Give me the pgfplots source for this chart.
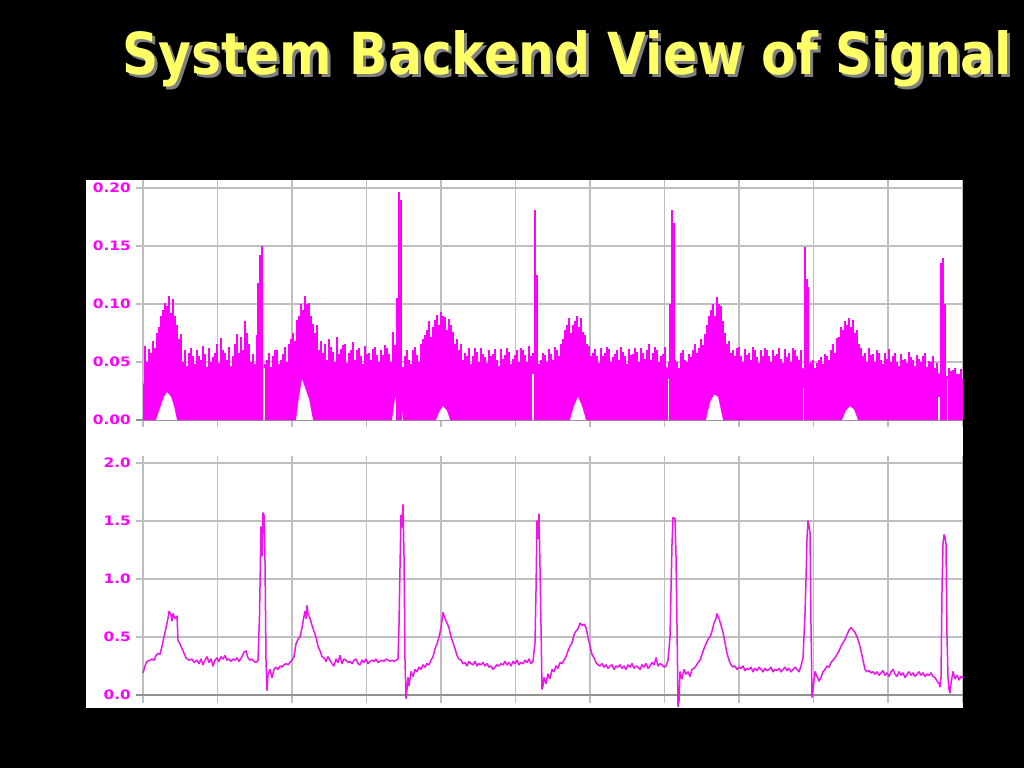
\documentclass[border=0pt]{standalone}
\usepackage{pgfplots}
\pgfplotsset{compat=1.18}
\usepackage{fontspec}
\setmainfont{DejaVu Sans}
\usepackage{graphicx}
\definecolor{mag}{RGB}{255,0,255}
\definecolor{magline}{RGB}{238,20,238}
\definecolor{ttl}{RGB}{255,255,102}
\definecolor{gridc}{RGB}{190,190,190}
\definecolor{zeroc}{RGB}{145,145,145}
\newcommand{\tl}[1]{\scalebox{1.18}[1]{#1}}
\pgfplotsset{ecg/.style={
  scale only axis, width=827pt, height=247pt,
  xmin=136, xmax=963,
  axis line style={draw=none},
  xtick={143,217.5,292,366.5,441,515.5,590,664.5,739,813.5,888,962.5},
  xticklabels={},
  major tick length=0pt,
  grid=major,
  major grid style={gridc, line width=1.6pt},
  extra y ticks={0}, extra y tick labels={},
  extra y tick style={grid=major, major grid style={zeroc, line width=1.8pt}},
  yticklabel style={font=\bfseries\fontsize{13}{13}\selectfont, text=mag, inner sep=0pt, xshift=-5pt, anchor=east},
  clip=false,
}}
\begin{document}
\begin{tikzpicture}[x=1pt,y=1pt]
\fill[black] (0pt,0pt) rectangle (1024pt,768pt);
\fill[white] (86pt,60pt) rectangle (963pt,588pt);
\node[anchor=base west, inner sep=0pt, text=gray] at (125pt,690pt) {\resizebox{890pt}{44pt}{\bfseries System Backend View of Signal}};
\node[anchor=base west, inner sep=0pt, text=ttl] at (122pt,693pt) {\resizebox{890pt}{44pt}{\bfseries System Backend View of Signal}};

% ---------------- top panel ----------------
\begin{axis}[ecg, at={(136pt,341pt)}, anchor=south west,
  ymin=-0.006, ymax=0.207,
  ytick={0,0.05,0.1,0.15,0.2},
  yticklabels={\tl{0.00},\tl{0.05},\tl{0.10},\tl{0.15},\tl{0.20}}]
% solid lower band
\addplot[fill=mag, draw=none] coordinates {
(143,0) (143,0.030) (147,0.040) (152,0.046) (157,0.050) (162,0.065) (167,0.080) (172,0.078) (177,0.058) (182,0.048) (188,0.042) (200,0.044) (212,0.040) (224,0.046) (236,0.042) (248,0.046) (256,0.044) (260,0.040) (268,0.040) (280,0.043) (290,0.048) (296,0.062) (301,0.080) (306,0.088) (311,0.078) (316,0.062) (322,0.048) (334,0.044) (350,0.046) (366,0.043) (382,0.045) (396,0.046) (404,0.042) (416,0.045) (424,0.055) (432,0.068) (440,0.075) (448,0.072) (455,0.058) (462,0.047) (480,0.045) (500,0.043) (520,0.046) (532,0.045) (540,0.040) (552,0.044) (562,0.050) (568,0.065) (575,0.075) (582,0.072) (588,0.058) (595,0.046) (620,0.045) (645,0.046) (664,0.047) (676,0.040) (690,0.046) (700,0.052) (706,0.068) (712,0.082) (718,0.088) (724,0.072) (730,0.052) (745,0.046) (770,0.045) (800,0.046) (812,0.040) (825,0.043) (835,0.052) (842,0.064) (849,0.072) (856,0.066) (863,0.050) (875,0.046) (900,0.044) (925,0.043) (940,0.040) (950,0.036) (963,0.036) (963,0)} \closedcycle;
% spikes, first set
\addplot[ycomb, mag, line width=2pt, no marks] coordinates {
(145,0.064) (149,0.061) (153,0.068) (157,0.075) (161,0.090) (165,0.101) (169,0.107) (173,0.104) (177,0.082) (181,0.074)
(185,0.060) (189,0.058) (193,0.055) (197,0.060) (201,0.052) (205,0.057) (209,0.062) (213,0.054) (217,0.066) (221,0.071)
(225,0.058) (229,0.063) (233,0.055) (237,0.074) (241,0.072) (245,0.085) (249,0.066) (253,0.057) (257,0.073) (261,0.050)
(265,0.048) (269,0.058) (273,0.055) (277,0.060) (281,0.052) (285,0.063) (289,0.066) (293,0.075) (297,0.086) (301,0.100)
(305,0.107) (309,0.101) (313,0.083) (317,0.082) (321,0.068) (325,0.066) (329,0.070) (333,0.059) (337,0.072) (341,0.061)
(345,0.066) (349,0.058) (353,0.067) (357,0.060) (361,0.055) (365,0.064) (369,0.058) (373,0.061) (377,0.056) (381,0.060)
(385,0.065) (389,0.057) (393,0.076) (397,0.060) (401,0.050) (405,0.055) (409,0.052) (413,0.060) (417,0.056) (421,0.066)
(425,0.073) (429,0.085) (433,0.080) (437,0.091) (441,0.093) (445,0.089) (449,0.087) (453,0.076) (457,0.070) (461,0.066)
(465,0.058) (469,0.062) (473,0.055) (477,0.059) (481,0.062) (485,0.054) (489,0.060) (493,0.057) (497,0.052) (501,0.061)
(505,0.056) (509,0.059) (513,0.053) (517,0.060) (521,0.062) (525,0.056) (529,0.064) (533,0.058) (537,0.045) (541,0.052)
(545,0.056) (549,0.061) (553,0.052) (557,0.060) (561,0.066) (565,0.078) (569,0.088) (573,0.082) (577,0.090) (581,0.088)
(585,0.073) (589,0.064) (593,0.058) (597,0.055) (601,0.062) (605,0.058) (609,0.061) (613,0.054) (617,0.060) (621,0.063)
(625,0.055) (629,0.061) (633,0.057) (637,0.059) (641,0.062) (645,0.053) (649,0.066) (653,0.058) (657,0.060) (661,0.055)
(665,0.063) (669,0.050) (673,0.045) (677,0.050) (681,0.058) (685,0.052) (689,0.057) (693,0.060) (697,0.058) (701,0.070)
(705,0.074) (709,0.090) (713,0.100) (717,0.106) (721,0.098) (725,0.075) (729,0.068) (733,0.060) (737,0.062) (741,0.055)
(745,0.061) (749,0.058) (753,0.063) (757,0.054) (761,0.060) (765,0.062) (769,0.055) (773,0.060) (777,0.057) (781,0.053)
(785,0.061) (789,0.058) (793,0.062) (797,0.055) (801,0.060) (805,0.050) (809,0.048) (813,0.052) (817,0.049) (821,0.054)
(825,0.057) (829,0.052) (833,0.066) (837,0.071) (841,0.080) (845,0.085) (849,0.088) (853,0.086) (857,0.078) (861,0.062)
(865,0.058) (869,0.062) (873,0.057) (877,0.060) (881,0.052) (885,0.058) (889,0.061) (893,0.055) (897,0.050) (901,0.057)
(905,0.053) (909,0.059) (913,0.052) (917,0.056) (921,0.050) (925,0.058) (929,0.051) (933,0.055) (937,0.049) (941,0.045)
(945,0.042) (949,0.045) (953,0.043) (957,0.040) (961,0.044)};
% spikes, second set (interleaved)
\addplot[ycomb, mag, line width=1.6pt, no marks] coordinates {
(147,0.050) (151,0.058) (155,0.062) (159,0.080) (163,0.095) (167,0.098) (171,0.092) (175,0.090) (179,0.070) (183,0.050)
(187,0.047) (191,0.062) (195,0.048) (199,0.055) (203,0.064) (207,0.046) (211,0.050) (215,0.058) (219,0.049) (223,0.060)
(227,0.052) (231,0.047) (235,0.066) (239,0.058) (243,0.060) (247,0.075) (251,0.050) (255,0.048) (259,0.040) (263,0.040)
(267,0.052) (271,0.046) (275,0.060) (279,0.048) (283,0.057) (287,0.050) (291,0.070) (295,0.068) (299,0.090) (303,0.095)
(307,0.100) (311,0.090) (315,0.075) (319,0.060) (323,0.058) (327,0.052) (331,0.063) (335,0.050) (339,0.057) (343,0.065)
(347,0.049) (351,0.060) (355,0.052) (359,0.062) (363,0.048) (367,0.057) (371,0.052) (375,0.063) (379,0.050) (383,0.056)
(387,0.062) (391,0.050) (395,0.065) (399,0.040) (403,0.046) (407,0.060) (411,0.048) (415,0.063) (419,0.050) (423,0.070)
(427,0.078) (431,0.072) (435,0.086) (439,0.082) (443,0.090) (447,0.078) (451,0.082) (455,0.066) (459,0.060) (463,0.052)
(467,0.055) (471,0.048) (475,0.062) (479,0.050) (483,0.057) (487,0.049) (491,0.055) (495,0.061) (499,0.047) (503,0.053)
(507,0.062) (511,0.048) (515,0.056) (519,0.050) (523,0.060) (527,0.050) (531,0.055) (535,0.040) (539,0.048) (543,0.058)
(547,0.050) (551,0.057) (555,0.063) (559,0.055) (563,0.070) (567,0.082) (571,0.075) (575,0.085) (579,0.080) (583,0.076)
(587,0.066) (591,0.055) (595,0.061) (599,0.049) (603,0.055) (607,0.063) (611,0.050) (615,0.057) (619,0.052) (623,0.059)
(627,0.048) (631,0.056) (635,0.062) (639,0.050) (643,0.058) (647,0.060) (651,0.052) (655,0.063) (659,0.050) (663,0.057)
(667,0.045) (671,0.040) (675,0.052) (679,0.045) (683,0.060) (687,0.050) (691,0.054) (695,0.066) (699,0.062) (703,0.065)
(707,0.082) (711,0.095) (715,0.090) (719,0.100) (723,0.085) (727,0.066) (731,0.058) (735,0.055) (739,0.063) (743,0.050)
(747,0.056) (751,0.052) (755,0.060) (759,0.049) (763,0.055) (767,0.060) (771,0.050) (775,0.055) (779,0.062) (783,0.049)
(787,0.054) (791,0.050) (795,0.060) (799,0.052) (803,0.040) (807,0.045) (811,0.050) (815,0.045) (819,0.052) (823,0.048)
(827,0.055) (831,0.060) (835,0.058) (839,0.072) (843,0.078) (847,0.082) (851,0.080) (855,0.075) (859,0.066) (863,0.055)
(867,0.050) (871,0.056) (875,0.050) (879,0.058) (883,0.048) (887,0.053) (891,0.050) (895,0.058) (899,0.047) (903,0.052)
(907,0.049) (911,0.054) (915,0.047) (919,0.053) (923,0.055) (927,0.046) (931,0.050) (935,0.045) (939,0.040) (943,0.040)
(947,0.038) (951,0.042) (955,0.045) (959,0.040)};
% white holes near the base
\addplot[fill=white, draw=none] coordinates {(156,0) (160,0.010) (164,0.020) (167,0.024) (171,0.020) (174,0.012) (177,0)} \closedcycle;
\addplot[fill=white, draw=none] coordinates {(296,0) (299,0.020) (302,0.035) (305,0.028) (309,0.018) (313,0)} \closedcycle;
\addplot[fill=white, draw=none] coordinates {(392,0) (395,0.018) (398,0.023) (401,0.015) (403,0)} \closedcycle;
\addplot[fill=white, draw=none] coordinates {(436,0) (440,0.008) (443,0.012) (447,0.008) (450,0)} \closedcycle;
\addplot[fill=white, draw=none] coordinates {(570,0) (574,0.012) (578,0.020) (582,0.012) (586,0)} \closedcycle;
\addplot[fill=white, draw=none] coordinates {(706,0) (710,0.015) (714,0.022) (718,0.020) (723,0)} \closedcycle;
\addplot[fill=white, draw=none] coordinates {(842,0) (846,0.008) (850,0.012) (854,0.009) (858,0)} \closedcycle;
% white gaps beside the QRS spikes
\addplot[ycomb, white, line width=1.4pt, no marks] coordinates {(264,0.045) (533,0.040) (668.5,0.035) (803.5,0.028) (939,0.020) (947.5,0.035)};
% QRS spikes
\addplot[ycomb, mag, line width=1.8pt, no marks] coordinates {
(258,0.118) (260,0.142) (262,0.150)
(397,0.105) (399,0.197) (401,0.190)
(535,0.181) (537,0.125)
(670,0.100) (672,0.181) (674,0.170)
(805,0.149) (807,0.122) (808.5,0.115)
(941,0.135) (943,0.140) (945,0.100)};
\end{axis}

% ---------------- bottom panel ----------------
\begin{axis}[ecg, at={(136pt,65pt)}, anchor=south west,
  ymin=-0.069, ymax=2.06,
  ytick={0,0.5,1,1.5,2},
  yticklabels={\tl{0.0},\tl{0.5},\tl{1.0},\tl{1.5},\tl{2.0}}]
\addplot[magline, line width=1.5pt, line join=round, no marks] coordinates {
(143,0.19) (145,0.25) (147,0.29) (150,0.30) (152,0.31) (154,0.30) (156,0.34) (158,0.36) (160,0.35) (162,0.42) (164,0.50) (166,0.58) (168,0.66) (169,0.72) (171,0.69) (172,0.64) (173,0.70) (175,0.66) (177,0.68) (178,0.47) (180,0.44) (182,0.40) (184,0.36) (186,0.32) (189,0.30) (192,0.31) (194,0.28) (197,0.30) (199,0.27) (201,0.31) (203,0.26) (205,0.30) (207,0.33) (209,0.28) (211,0.31) (213,0.25) (215,0.30) (217,0.32) (219,0.29) (221,0.33) (223,0.31) (225,0.34) (227,0.30) (229,0.31) (231,0.29) (233,0.31) (235,0.30) (237,0.32) (239,0.29) (242,0.33) (244,0.37) (246,0.38) (248,0.32) (250,0.30) (252,0.31) (254,0.29) (256,0.28) (258,0.30) (259.5,0.68) (261,1.45) (262,1.20) (263,1.57) (264,1.55) (265,1.15) (266,0.30) (267,0.04) (268,0.18) (270,0.22) (272,0.15) (274,0.22) (276,0.24) (278,0.22) (280,0.25) (282,0.24) (284,0.26) (286,0.27) (288,0.26) (290,0.28) (292,0.30) (294,0.33) (296,0.44) (298,0.48) (300,0.50) (302,0.58) (304,0.68) (305,0.72) (306,0.66) (307,0.77) (308,0.70) (310,0.66) (312,0.60) (314,0.55) (316,0.50) (318,0.42) (320,0.38) (322,0.33) (324,0.32) (326,0.29) (328,0.33) (330,0.30) (332,0.27) (334,0.25) (336,0.31) (338,0.28) (340,0.34) (342,0.27) (344,0.31) (346,0.30) (348,0.28) (350,0.29) (352,0.27) (354,0.30) (356,0.31) (358,0.27) (360,0.26) (362,0.30) (364,0.28) (366,0.31) (368,0.27) (370,0.29) (372,0.30) (374,0.29) (376,0.31) (378,0.28) (380,0.29) (382,0.30) (384,0.29) (386,0.31) (388,0.30) (390,0.29) (392,0.30) (394,0.29) (396,0.30) (398,0.31) (399,0.60) (400,1.10) (401,1.55) (402,1.45) (403,1.64) (404,1.20) (405,0.30) (406,-0.03) (407,0.05) (408,0.15) (409,0.08) (411,0.20) (413,0.16) (415,0.22) (417,0.20) (419,0.24) (421,0.22) (423,0.26) (425,0.24) (427,0.27) (429,0.26) (431,0.30) (433,0.33) (435,0.40) (437,0.44) (439,0.50) (441,0.58) (443,0.71) (445,0.66) (447,0.62) (449,0.58) (451,0.50) (453,0.45) (455,0.40) (457,0.34) (459,0.31) (461,0.30) (463,0.27) (465,0.28) (467,0.25) (469,0.29) (471,0.27) (473,0.26) (475,0.29) (477,0.25) (479,0.27) (481,0.26) (483,0.28) (485,0.25) (487,0.27) (489,0.24) (491,0.25) (493,0.22) (495,0.24) (497,0.26) (499,0.25) (501,0.27) (503,0.26) (505,0.29) (507,0.26) (509,0.28) (511,0.25) (513,0.29) (515,0.27) (517,0.30) (519,0.26) (521,0.28) (523,0.27) (525,0.30) (527,0.28) (529,0.31) (531,0.27) (533,0.29) (535,0.45) (536,0.90) (537,1.50) (538,1.35) (539,1.56) (540,1.10) (541,0.60) (542,0.05) (543,0.08) (544,0.15) (546,0.10) (548,0.18) (550,0.14) (552,0.22) (554,0.20) (556,0.25) (558,0.23) (560,0.28) (562,0.27) (564,0.30) (566,0.33) (568,0.38) (570,0.42) (572,0.45) (574,0.52) (576,0.55) (578,0.57) (580,0.62) (582,0.60) (584,0.61) (586,0.58) (588,0.50) (590,0.42) (592,0.35) (594,0.32) (596,0.28) (598,0.26) (600,0.25) (602,0.27) (604,0.24) (606,0.26) (608,0.23) (610,0.25) (612,0.26) (614,0.22) (616,0.25) (618,0.24) (620,0.26) (622,0.23) (624,0.25) (626,0.22) (628,0.26) (630,0.24) (632,0.27) (634,0.23) (636,0.25) (638,0.24) (640,0.22) (642,0.26) (644,0.24) (646,0.27) (648,0.23) (650,0.25) (652,0.28) (654,0.26) (656,0.32) (658,0.25) (660,0.27) (662,0.26) (664,0.24) (666,0.25) (668,0.30) (670,0.50) (671,0.90) (672,1.30) (673,1.53) (675,1.52) (676,1.20) (677,0.60) (678,-0.10) (679,-0.05) (680,0.20) (682,0.14) (684,0.22) (686,0.18) (688,0.20) (690,0.16) (692,0.22) (694,0.23) (696,0.25) (698,0.28) (700,0.30) (702,0.35) (704,0.40) (706,0.44) (708,0.48) (710,0.50) (712,0.55) (714,0.62) (716,0.66) (717,0.70) (719,0.66) (721,0.60) (723,0.54) (725,0.45) (727,0.36) (729,0.30) (731,0.26) (733,0.24) (735,0.25) (737,0.22) (739,0.24) (741,0.23) (743,0.25) (745,0.21) (747,0.23) (749,0.22) (751,0.24) (753,0.20) (755,0.23) (757,0.21) (759,0.24) (761,0.22) (763,0.20) (765,0.23) (767,0.21) (769,0.22) (771,0.24) (773,0.20) (775,0.22) (777,0.21) (779,0.23) (781,0.20) (783,0.22) (785,0.24) (787,0.21) (789,0.23) (791,0.20) (793,0.22) (795,0.24) (797,0.22) (799,0.20) (801,0.25) (803,0.32) (805,0.70) (806,1.00) (807,1.35) (808,1.50) (809,1.46) (810,1.40) (811,0.60) (812,-0.02) (813,0.05) (815,0.20) (817,0.16) (819,0.12) (821,0.15) (823,0.20) (825,0.22) (827,0.25) (829,0.24) (831,0.28) (833,0.30) (835,0.32) (837,0.35) (839,0.38) (841,0.42) (843,0.45) (845,0.48) (847,0.52) (849,0.56) (851,0.58) (853,0.56) (855,0.54) (857,0.50) (859,0.45) (861,0.38) (863,0.30) (865,0.22) (867,0.20) (869,0.21) (871,0.19) (873,0.20) (875,0.18) (877,0.20) (879,0.17) (881,0.19) (883,0.21) (885,0.17) (887,0.19) (889,0.16) (891,0.20) (893,0.22) (895,0.18) (897,0.16) (899,0.20) (901,0.17) (903,0.19) (905,0.15) (907,0.18) (909,0.20) (911,0.17) (913,0.19) (915,0.16) (917,0.18) (919,0.20) (921,0.17) (923,0.19) (925,0.16) (927,0.18) (929,0.17) (931,0.19) (933,0.16) (935,0.15) (937,0.12) (939,0.10) (940,0.07) (941,0.15) (942,0.90) (943,1.30) (944,1.38) (945,1.36) (946,1.30) (947,0.50) (948,0.15) (949,0.05) (950,0.02) (951,0.10) (953,0.20) (955,0.14) (957,0.17) (959,0.13) (961,0.16) (963,0.15)};
\end{axis}
\pgfresetboundingbox
\path[use as bounding box] (0pt,0pt) rectangle (1024pt,768pt);
\end{tikzpicture}
\end{document}
